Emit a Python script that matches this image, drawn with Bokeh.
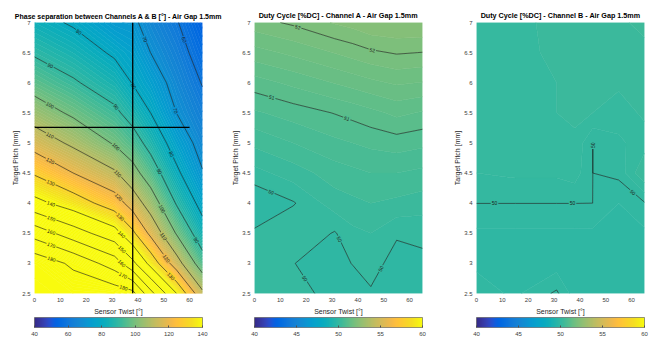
import numpy as np
import contourpy
from bokeh.plotting import figure
from bokeh.layouts import row
from bokeh.models import LinearColorMapper, ColorBar, FixedTicker, Range1d
from bokeh.embed import file_html
from bokeh.resources import INLINE
from bokeh.core.properties import value

# ---------------- data ----------------
twist = [0, 15, 31, 38, 45, 55, 65]                 # Sensor Twist [deg]
pitch = [2.5, 3.0, 3.5, 4.0, 4.5, 5.0, 5.5, 6.0, 6.5, 7.0]   # Target Pitch [mm]

x_ticks = [0, 10, 20, 30, 40, 50, 60]
y_ticks = [2.5, 3, 3.5, 4, 4.5, 5, 5.5, 6, 6.5, 7]
y_tick_labels = ["2.5", "3", "3.5", "4", "4.5", "5", "5.5", "6", "6.5", "7"]

# Phase separation between channels A & B [deg] (rows = pitch, cols = twist)
phase_sep = [
    [189, 187, 186, 183, 163, 140, 112],
    [187, 178, 165, 152.5, 136.8, 114.2, 94.3],
    [166, 154.6, 144, 132, 117.6, 99.2, 84.2],
    [143, 135.2, 125, 115.7, 105.2, 89.2, 76.8],
    [129, 120, 111.3, 103.3, 95, 81.7, 70.5],
    [116, 108.1, 99.1, 94.2, 86.8, 75.6, 66.7],
    [105, 98.4, 91.8, 86.4, 79.9, 69.9, 63.1],
    [96, 91, 85.1, 79.6, 74.9, 66.8, 59.5],
    [89, 84.9, 78.7, 75.6, 69.9, 63.7, 55.9],
    [83, 79, 72.3, 71.6, 66.5, 60.6, 52.3],
]

# Duty cycle channel A [%DC]
duty_a = [
    [50.15, 50.05, 49.954, 49.85, 49.97, 49.85, 49.90],
    [50.10, 50.005, 49.90, 50.01, 50.10, 49.90, 49.95],
    [50.04, 50.20, 49.98, 50.15, 50.20, 50.03, 50.05],
    [49.80, 49.98, 50.30, 50.35, 50.40, 50.35, 50.30],
    [50.13, 50.30, 50.50, 50.55, 50.60, 50.60, 50.55],
    [50.45, 50.60, 50.75, 50.80, 50.85, 50.90, 50.85],
    [50.77, 50.89, 51.01, 51.07, 51.14, 51.25, 51.18],
    [51.11, 51.25, 51.41, 51.48, 51.55, 51.63, 51.59],
    [51.52, 51.65, 51.81, 51.88, 51.96, 52.02, 51.995],
    [51.92, 52.04, 52.22, 52.28, 52.37, 52.40, 52.40],
]

# Duty cycle channel B [%DC]
duty_b = [
    [49.95, 49.88, 50.02, 49.85, 49.85, 49.85, 49.85],
    [49.88, 49.85, 49.85, 49.85, 49.85, 49.85, 49.85],
    [49.88, 49.88, 49.88, 49.88, 49.88, 49.88, 49.88],
    [50.001, 50.001, 50.001, 50.001, 49.99999, 49.90, 49.99],
    [50.10, 50.12, 50.12, 50.15, 49.99999, 50.03, 50.30],
    [50.15, 50.15, 50.15, 50.18, 49.99999, 50.08, 50.15],
    [50.15, 50.15, 50.20, 50.22, 50.20, 50.15, 50.22],
    [50.15, 50.15, 50.20, 50.25, 50.25, 50.22, 50.25],
    [50.15, 50.17, 50.22, 50.25, 50.25, 50.25, 50.27],
    [50.15, 50.18, 50.22, 50.25, 50.27, 50.28, 50.33],
]

phase_levels = [60, 70, 80, 90, 100, 110, 120, 130, 140, 150, 160, 170, 180]
duty_a_levels = [50, 51, 52]
duty_b_levels = [50]

phase_cbar_ticks = [40, 60, 80, 100, 120, 140]
duty_cbar_ticks = [40, 45, 50, 55, 60]

# marker lines on the phase plot
marker_twist = 38
marker_pitch = 5.26
marker_h_extent = [0, 60]

# ---------------- colour map (parula) ----------------
PARULA = [
    (0.2081, 0.1663, 0.5292), (0.2116, 0.1898, 0.5777), (0.2123, 0.2138, 0.6270), (0.2081, 0.2386, 0.6771),
    (0.1959, 0.2645, 0.7279), (0.1707, 0.2919, 0.7792), (0.1253, 0.3242, 0.8303), (0.0591, 0.3598, 0.8683),
    (0.0117, 0.3875, 0.8820), (0.0060, 0.4086, 0.8828), (0.0165, 0.4266, 0.8786), (0.0329, 0.4430, 0.8720),
    (0.0498, 0.4586, 0.8641), (0.0629, 0.4737, 0.8554), (0.0723, 0.4887, 0.8467), (0.0779, 0.5040, 0.8384),
    (0.0793, 0.5200, 0.8312), (0.0749, 0.5375, 0.8263), (0.0641, 0.5570, 0.8240), (0.0488, 0.5772, 0.8228),
    (0.0343, 0.5966, 0.8199), (0.0265, 0.6137, 0.8135), (0.0239, 0.6287, 0.8038), (0.0231, 0.6418, 0.7913),
    (0.0228, 0.6535, 0.7768), (0.0267, 0.6642, 0.7607), (0.0384, 0.6743, 0.7436), (0.0590, 0.6838, 0.7254),
    (0.0843, 0.6928, 0.7062), (0.1133, 0.7015, 0.6859), (0.1453, 0.7098, 0.6646), (0.1801, 0.7177, 0.6424),
    (0.2178, 0.7250, 0.6193), (0.2586, 0.7317, 0.5954), (0.3022, 0.7376, 0.5712), (0.3482, 0.7424, 0.5473),
    (0.3953, 0.7459, 0.5244), (0.4420, 0.7481, 0.5033), (0.4871, 0.7491, 0.4840), (0.5300, 0.7491, 0.4661),
    (0.5709, 0.7485, 0.4494), (0.6099, 0.7473, 0.4337), (0.6473, 0.7456, 0.4188), (0.6834, 0.7435, 0.4044),
    (0.7184, 0.7411, 0.3905), (0.7525, 0.7384, 0.3768), (0.7858, 0.7356, 0.3633), (0.8185, 0.7327, 0.3498),
    (0.8507, 0.7299, 0.3360), (0.8824, 0.7274, 0.3217), (0.9139, 0.7258, 0.3063), (0.9450, 0.7261, 0.2886),
    (0.9739, 0.7314, 0.2666), (0.9938, 0.7455, 0.2403), (0.9990, 0.7653, 0.2164), (0.9955, 0.7861, 0.1967),
    (0.9880, 0.8066, 0.1794), (0.9789, 0.8271, 0.1633), (0.9697, 0.8481, 0.1475), (0.9626, 0.8705, 0.1309),
    (0.9589, 0.8949, 0.1132), (0.9598, 0.9218, 0.0948), (0.9661, 0.9514, 0.0755), (0.9763, 0.9831, 0.0538),
]


def build_palette(anchors, n=256):
    a = np.array(anchors)
    t = np.linspace(0, 1, len(a))
    tt = np.linspace(0, 1, n)
    cols = np.stack([np.interp(tt, t, a[:, k]) for k in range(3)], axis=1)
    return ["#%02x%02x%02x" % tuple(int(round(c * 255)) for c in rgb) for rgb in cols]


PAL = build_palette(PARULA)


def color_at(v, lo, hi):
    i = int(np.floor((v - lo) / (hi - lo) * len(PAL)))
    return PAL[max(0, min(len(PAL) - 1, i))]


# ---------------- layout constants ----------------
FW, FH = 168, 271
X0, X1, Y0, Y1 = 0, 65, 2.5, 7
SX = FW / (X1 - X0)
SY = FH / (Y1 - Y0)
FONT = "Liberation Sans"
TXT = "#404040"


def label_positions(seg, first=18.0, spacing=78.0):
    pts = np.asarray(seg, dtype=float)
    if pts[0, 0] > pts[-1, 0]:
        pts = pts[::-1]
    px = pts[:, 0] * SX
    py = pts[:, 1] * SY
    d = np.hypot(np.diff(px), np.diff(py))
    cum = np.concatenate([[0.0], np.cumsum(d)])
    total = cum[-1]
    out = []
    if total < 30:
        return out
    s = first
    while s < total - 6:
        i = int(np.searchsorted(cum, s) - 1)
        i = max(0, min(len(d) - 1, i))
        while d[i] == 0 and i < len(d) - 1:
            i += 1
        t = (s - cum[i]) / d[i] if d[i] > 0 else 0
        x = pts[i, 0] + t * (pts[i + 1, 0] - pts[i, 0])
        y = pts[i, 1] + t * (pts[i + 1, 1] - pts[i, 1])
        ang = np.arctan2(py[i + 1] - py[i], px[i + 1] - px[i])
        if ang > np.pi / 2:
            ang -= np.pi
        if ang < -np.pi / 2:
            ang += np.pi
        out.append((x, y, ang))
        s += spacing
    return out


def make_panel(z, title, lo, hi, cb_ticks, fill_levels, line_levels, left, right, title_size):
    Z = np.array(z, dtype=float)
    p = figure(frame_width=FW, frame_height=FH, x_range=Range1d(X0, X1), y_range=Range1d(Y0, Y1),
               output_backend="svg", toolbar_location=None,
               min_border_left=left, min_border_right=right, min_border_top=22, min_border_bottom=10)
    p.background_fill_color = "white"
    p.border_fill_color = "white"
    p.outline_line_color = None
    p.xgrid.visible = False
    p.ygrid.visible = False

    p.title.text = title
    p.title.align = "center"
    p.title.text_font = FONT
    p.title.text_font_size = title_size
    p.title.text_font_style = "bold"
    p.title.text_color = "#000000"
    p.title.standoff = 5

    XX, YY = np.meshgrid(np.array(twist, float), np.array(pitch, float))
    gen = contourpy.contour_generator(XX, YY, Z, fill_type=contourpy.FillType.OuterOffset)

    # filled bands
    pxs, pys, pcol = [], [], []
    for a, b in zip(fill_levels[:-1], fill_levels[1:]):
        col = color_at((a + b) / 2, lo, hi)
        points_list, offsets_list = gen.filled(a, b)
        for pts, offs in zip(points_list, offsets_list):
            rx, ry = [], []
            for k in range(len(offs) - 1):
                ring = pts[offs[k]:offs[k + 1]]
                rx.append(ring[:, 0].tolist())
                ry.append(ring[:, 1].tolist())
            pxs.append([rx]); pys.append([ry]); pcol.append(col)
    p.multi_polygons(xs=pxs, ys=pys, fill_color=pcol, line_color=pcol, line_width=0.5)

    # contour lines + inline labels
    xs, ys = [], []
    lx, ly, lt, la, lc = [], [], [], [], []
    for lev in line_levels:
        for seg in gen.lines(lev):
            if len(seg) < 2:
                continue
            xs.append(seg[:, 0].tolist())
            ys.append(seg[:, 1].tolist())
            for (x, y, a) in label_positions(seg):
                lx.append(x); ly.append(y); la.append(a)
                lt.append("%d" % lev)
                lc.append(color_at(lev, lo, hi))
    p.multi_line(xs, ys, line_color="#1a1a1a", line_width=0.6)
    if lx:
        p.text(x=lx, y=ly, text=lt, angle=la, text_align="center", text_baseline="middle",
               text_font=value(FONT), text_font_size="5px", text_color="#1a1a1a",
               background_fill_color=lc, padding=1)

    for ax in (p.xaxis[0], p.yaxis[0]):
        ax.axis_line_color = None
        ax.major_tick_line_color = None
        ax.minor_tick_line_color = None
        ax.major_tick_out = 0
        ax.major_tick_in = 0
        ax.minor_tick_out = 0
        ax.minor_tick_in = 0
        ax.major_label_text_font = FONT
        ax.major_label_text_font_size = "6px"
        ax.major_label_text_color = TXT
        ax.axis_label_text_font = FONT
        ax.axis_label_text_font_size = "7px"
        ax.axis_label_text_font_style = "normal"
        ax.axis_label_text_color = "#262626"
        ax.major_label_standoff = 4
    p.xaxis.ticker = FixedTicker(ticks=x_ticks)
    p.yaxis.ticker = FixedTicker(ticks=y_ticks)
    p.yaxis.major_label_overrides = {t: s for t, s in zip(y_ticks, y_tick_labels)}
    p.xaxis.axis_label = "Sensor Twist [°]"
    p.yaxis.axis_label = "Target Pitch [mm]"
    p.xaxis.axis_label_standoff = 3
    p.yaxis.axis_label_standoff = 0

    mapper = LinearColorMapper(palette=PAL, low=lo, high=hi)
    cb = ColorBar(color_mapper=mapper, orientation="horizontal", width=FW, height=10,
                  ticker=FixedTicker(ticks=cb_ticks), padding=0, margin=12, location="top_left",
                  major_label_text_font=FONT, major_label_text_font_size="6px",
                  major_label_text_color=TXT, label_standoff=4,
                  major_tick_in=2, major_tick_out=0, major_tick_line_color="#505050",
                  bar_line_color="#505050", bar_line_width=0.6,
                  background_fill_color="white")
    p.add_layout(cb, "below")
    return p


p1 = make_panel(phase_sep, "Phase separation between Channels A & B [°] - Air Gap 1.5mm",
                40, 140, phase_cbar_ticks, list(range(40, 201, 1)), phase_levels, 34, 22, "7px")
p1.segment(x0=[marker_twist, marker_h_extent[0]], y0=[Y0, marker_pitch],
           x1=[marker_twist, marker_h_extent[1]], y1=[Y1, marker_pitch],
           line_color="black", line_width=1.3)

duty_fill = [round(49.0 + 0.2 * k, 2) for k in range(0, 21)]
duty_b_fill = [round(49.5 + 0.1 * k, 2) for k in range(0, 11)]
p2 = make_panel(duty_a, "Duty Cycle [%DC] - Channel A - Air Gap 1.5mm",
                40, 60, duty_cbar_ticks, duty_fill, duty_a_levels, 30, 20, "7.2px")
p3 = make_panel(duty_b, "Duty Cycle [%DC] - Channel B - Air Gap 1.5mm",
                40, 60, duty_cbar_ticks, duty_b_fill, duty_b_levels, 34, 6, "7.2px")

layout = row(p1, p2, p3)
open("out.html", "w").write(file_html(layout, INLINE))
